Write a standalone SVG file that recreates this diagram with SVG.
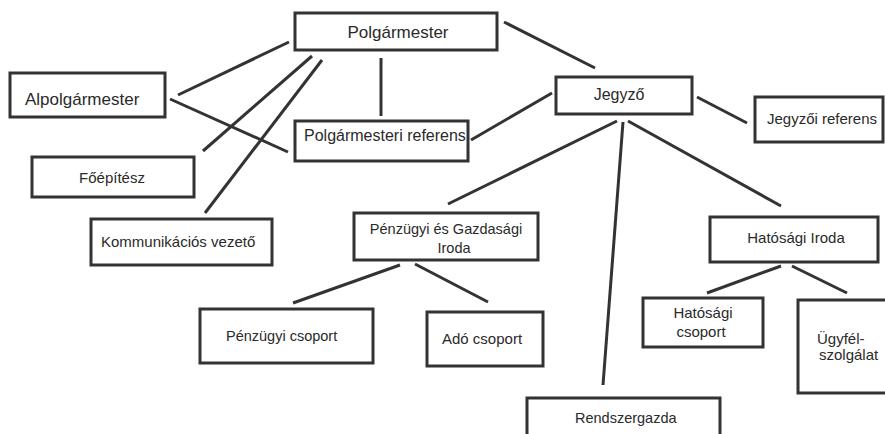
<svg xmlns="http://www.w3.org/2000/svg" width="885" height="434" viewBox="0 0 885 434">
<style>
.b{fill:#fff;stroke:#333;stroke-width:3}
.t{font-family:"Liberation Sans",Arial,sans-serif;fill:#2a2a2a;font-size:15px}
.c line{stroke:#333;stroke-width:3;stroke-linecap:butt}
</style>
<rect width="885" height="434" fill="#fff"/>
<g class="c" id="connectors">
<line x1="289" y1="42" x2="178" y2="95"/>
<line x1="170" y1="99" x2="288" y2="152"/>
<line x1="312" y1="56" x2="203" y2="151"/>
<line x1="322" y1="60" x2="205" y2="213"/>
<line x1="381" y1="58" x2="381" y2="116"/>
<line x1="504" y1="22" x2="595" y2="68"/>
<line x1="552" y1="93" x2="471" y2="140"/>
<line x1="697" y1="97" x2="747" y2="123"/>
<line x1="617" y1="121" x2="448" y2="204"/>
<line x1="623" y1="122" x2="603" y2="385"/>
<line x1="628" y1="121" x2="781" y2="206"/>
<line x1="400" y1="265" x2="293" y2="303"/>
<line x1="415" y1="264" x2="488" y2="302"/>
<line x1="781" y1="266" x2="707" y2="293"/>
<line x1="792" y1="266" x2="847" y2="293"/>
</g>
<g id="polgarmester"><rect class="b" x="295" y="13" width="202" height="37"/><text class="t" x="398" y="38" text-anchor="middle" style="font-size:17px">Polgármester</text></g>
<g id="alpolgarmester"><rect class="b" x="10" y="73" width="155" height="44"/><text class="t" x="25" y="105" style="font-size:17px">Alpolgármester</text></g>
<g id="polgarmesteri-referens"><rect class="b" x="295" y="121" width="173" height="40"/><text class="t" x="304" y="141" style="font-size:16px">Polgármesteri referens</text></g>
<g id="foepitesz"><rect class="b" x="32" y="157" width="162" height="40"/><text class="t" x="112" y="183" text-anchor="middle">Főépítész</text></g>
<g id="kommunikacios-vezeto"><rect class="b" x="91" y="219" width="181" height="46"/><text class="t" x="101" y="247">Kommunikációs vezető</text></g>
<g id="jegyzo"><rect class="b" x="556" y="77" width="136" height="37"/><text class="t" x="619" y="100" text-anchor="middle" style="font-size:16px">Jegyző</text></g>
<g id="jegyzoi-referens"><rect class="b" x="755" y="97" width="128" height="45"/><text class="t" x="767" y="124">Jegyzői referens</text></g>
<g id="penzugyi-gazdasagi-iroda"><rect class="b" x="354" y="213" width="184" height="47"/><text class="t" x="446" y="234" text-anchor="middle" style="font-size:14.5px">Pénzügyi és Gazdasági</text><text class="t" x="454" y="253" text-anchor="middle" style="font-size:14.5px">Iroda</text></g>
<g id="hatosagi-iroda"><rect class="b" x="710" y="217" width="168" height="45"/><text class="t" x="796" y="243" text-anchor="middle">Hatósági Iroda</text></g>
<g id="penzugyi-csoport"><rect class="b" x="200" y="309" width="173" height="54"/><text class="t" x="226" y="341" style="font-size:14.5px">Pénzügyi csoport</text></g>
<g id="ado-csoport"><rect class="b" x="427" y="312" width="116" height="54"/><text class="t" x="442" y="344">Adó csoport</text></g>
<g id="hatosagi-csoport"><rect class="b" x="643" y="298" width="120" height="49"/><text class="t" x="703" y="318" text-anchor="middle">Hatósági</text><text class="t" x="701" y="337" text-anchor="middle">csoport</text></g>
<g id="ugyfelszolgalat"><rect class="b" x="798" y="300" width="95" height="93"/><text class="t" x="817" y="344">Ügyfél-</text><text class="t" x="819" y="360">szolgálat</text></g>
<g id="rendszergazda"><rect class="b" x="527" y="398" width="193" height="45"/><text class="t" x="575" y="423" style="font-size:14.5px">Rendszergazda</text></g>
</svg>
